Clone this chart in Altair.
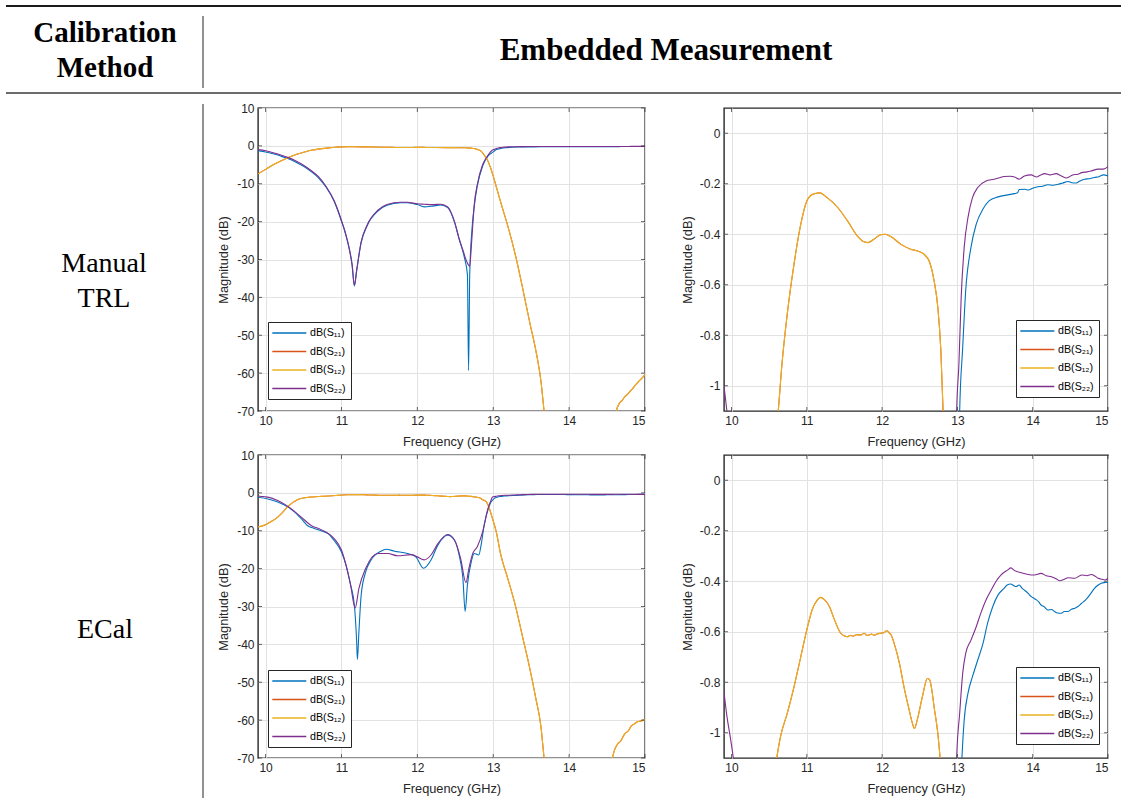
import altair as alt
import pandas as pd

# ---------------- data ----------------
FREQ_TICKS = [10, 11, 12, 13, 14, 15]
WIDE_TICKS = [-70, -60, -50, -40, -30, -20, -10, 0, 10]
ZOOM_TICKS = [-1, -0.8, -0.6, -0.4, -0.2, 0]

SERIES = ["dB(S₁₁)", "dB(S₂₁)", "dB(S₁₂)", "dB(S₂₂)"]
COLORS = ["#0072BD", "#D95319", "#EDB120", "#7E2F8E"]

# Manual TRL
trl_s11_f = [9.9, 10.0, 10.1, 10.2, 10.3, 10.4, 10.5, 10.6, 10.7, 10.8, 10.9, 10.95, 11.0, 11.05, 11.1, 11.14,
             11.17, 11.2, 11.26, 11.34, 11.48, 11.6, 11.78, 11.87, 12.0, 12.09, 12.2, 12.31, 12.4, 12.49, 12.55,
             12.62, 12.66, 12.675, 12.69, 12.72, 12.75, 12.79, 12.86, 12.93, 13.0, 13.03, 13.07, 13.11, 13.18,
             13.25, 13.34, 13.42, 13.54, 13.67, 13.76, 13.8, 13.82, 13.9, 13.94, 14.0, 14.07, 14.13, 14.2, 14.27,
             14.34, 14.4, 14.47, 14.52, 14.58, 14.62, 14.69, 14.75, 14.82, 14.88, 14.94, 15.0]
trl_s11_db = [-1.25, -1.6, -2.1, -2.7, -3.4, -4.3, -5.4, -6.8, -8.5, -11.0, -14.5, -17.0, -19.9, -23.0, -27.0,
              -31.5, -37.0, -33.0, -25.5, -21.0, -17.2, -15.7, -15.0, -15.0, -15.5, -16.1, -15.9, -15.6, -16.3,
              -20.2, -24.6, -29.5, -34.0, -59.3, -34.0, -22.0, -15.9, -10.6, -5.3, -2.7, -1.6, -1.1, -0.85,
              -0.624, -0.452, -0.36, -0.30, -0.268, -0.252, -0.244, -0.239, -0.236, -0.223, -0.222, -0.225,
              -0.218, -0.212, -0.21, -0.204, -0.206, -0.202, -0.197, -0.191, -0.196, -0.197, -0.19, -0.182,
              -0.18, -0.175, -0.172, -0.165, -0.169]

trl_s12_f = [9.9, 10.0, 10.1, 10.2, 10.3, 10.4, 10.5, 10.6, 10.62, 10.67, 10.74, 10.83, 10.92, 11.0, 11.08,
             11.17, 11.27, 11.41, 11.54, 11.67, 11.76, 11.81, 11.89, 11.98, 12.04, 12.12, 12.25, 12.38, 12.47,
             12.56, 12.63, 12.69, 12.74, 12.78, 12.81, 12.84, 12.88, 12.92, 12.96, 13.0, 13.05, 13.1, 13.19,
             13.3, 13.39, 13.48, 13.57, 13.63, 13.67, 13.72, 14.0, 14.3, 14.58, 14.62, 14.66, 14.7, 14.73,
             14.77, 14.8, 14.84, 14.88, 14.92, 14.96, 15.0]
trl_s12_db = [-7.4, -6.2, -5.0, -4.0, -3.1, -2.3, -1.7, -1.16, -1.1, -0.914, -0.716, -0.518, -0.36, -0.268,
              -0.242, -0.236, -0.255, -0.294, -0.347, -0.406, -0.43, -0.433, -0.42, -0.402, -0.40, -0.41, -0.44,
              -0.459, -0.466, -0.48, -0.51, -0.584, -0.69, -0.86, -1.1, -1.4, -2.4, -3.6, -5.5, -8.0, -11.5,
              -15.0, -21.0, -29.5, -37.8, -46.5, -54.9, -62.3, -70.0, -78.0, -85.0, -85.0, -74.0, -70.0, -68.0,
              -67.2, -66.3, -65.6, -64.9, -64.0, -63.0, -62.1, -61.3, -60.4]
trl_s21_f = trl_s12_f
trl_s21_db = trl_s12_db

trl_s22_f = [9.9, 10.0, 10.1, 10.2, 10.3, 10.4, 10.5, 10.6, 10.7, 10.8, 10.9, 10.95, 11.0, 11.05, 11.1, 11.14,
             11.17, 11.2, 11.26, 11.34, 11.48, 11.6, 11.78, 11.87, 12.0, 12.09, 12.2, 12.31, 12.4, 12.49, 12.55,
             12.6, 12.65, 12.69, 12.71, 12.73, 12.75, 12.79, 12.86, 12.93, 12.99, 13.02, 13.05, 13.09, 13.14,
             13.2, 13.27, 13.38, 13.49, 13.56, 13.62, 13.7, 13.76, 13.82, 13.89, 13.98, 14.05, 14.1, 14.16,
             14.23, 14.31, 14.38, 14.45, 14.53, 14.6, 14.65, 14.72, 14.78, 14.87, 14.94, 15.0]
trl_s22_db = [-1.0, -1.3, -1.8, -2.4, -3.1, -4.0, -5.1, -6.5, -8.2, -10.8, -14.3, -16.8, -19.7, -22.8, -26.8,
              -31.3, -36.8, -32.8, -25.3, -20.8, -17.0, -15.5, -14.9, -14.9, -15.3, -15.4, -15.5, -15.4, -16.1,
              -20.0, -24.4, -27.5, -30.5, -31.8, -27.0, -21.0, -15.5, -10.2, -5.0, -2.5, -1.1, -0.914, -0.65,
              -0.452, -0.334, -0.255, -0.215, -0.189, -0.182, -0.176, -0.171, -0.170, -0.173, -0.182, -0.169,
              -0.165, -0.173, -0.166, -0.160, -0.165, -0.160, -0.169, -0.177, -0.165, -0.162, -0.156, -0.153,
              -0.149, -0.142, -0.142, -0.132]

# ECal
ecal_s11_f = [9.9, 10.03, 10.16, 10.29, 10.38, 10.47, 10.55, 10.64, 10.73, 10.82, 10.9, 11.0, 11.06, 11.12,
              11.17, 11.2, 11.21, 11.23, 11.26, 11.32, 11.39, 11.52, 11.59, 11.7, 11.87, 11.98, 12.08, 12.18,
              12.27, 12.4, 12.49, 12.55, 12.6, 12.63, 12.66, 12.71, 12.75, 12.81, 12.84, 12.88, 12.95, 13.01,
              13.06, 13.09, 13.14, 13.2, 13.27, 13.34, 13.4, 13.47, 13.54, 13.62, 13.66, 13.71, 13.75, 13.78,
              13.82, 13.86, 13.89, 13.94, 13.98, 14.02, 14.05, 14.08, 14.11, 14.15, 14.2, 14.25, 14.29, 14.33,
              14.38, 14.42, 14.47, 14.52, 14.56, 14.6, 14.65, 14.7, 14.74, 14.78, 14.82, 14.87, 14.91, 14.96, 15.0]
ecal_s11_db = [-1.15, -1.6, -2.4, -3.7, -5.0, -6.8, -8.6, -9.4, -10.0, -10.7, -12.5, -15.6, -19.1, -24.3,
               -29.6, -39.2, -44.0, -36.6, -26.9, -20.8, -17.7, -15.4, -14.9, -15.4, -16.0, -16.9, -19.9, -17.7,
               -13.8, -11.2, -12.5, -16.4, -22.5, -31.3, -24.3, -18.2, -16.0, -16.4, -13.8, -8.6, -3.3, -1.5,
               -1.1, -0.95, -0.844, -0.778, -0.712, -0.646, -0.567, -0.5, -0.454, -0.428, -0.415, -0.411,
               -0.418, -0.421, -0.415, -0.428, -0.435, -0.448, -0.461, -0.468, -0.474, -0.482, -0.494, -0.5,
               -0.514, -0.512, -0.52, -0.526, -0.527, -0.52, -0.52, -0.51, -0.507, -0.5, -0.487, -0.475, -0.461,
               -0.445, -0.428, -0.415, -0.408, -0.405, -0.404]

ecal_s12_f = [9.9, 10.0, 10.08, 10.16, 10.23, 10.3, 10.36, 10.42, 10.5, 10.55, 10.6, 10.65, 10.74, 10.83, 10.92,
              11.01, 11.07, 11.14, 11.18, 11.23, 11.3, 11.36, 11.45, 11.5, 11.54, 11.58, 11.61, 11.66, 11.72,
              11.76, 11.8, 11.83, 11.86, 11.89, 11.94, 11.98, 12.02, 12.06, 12.09, 12.12, 12.16, 12.23, 12.29,
              12.36, 12.4, 12.43, 12.47, 12.54, 12.6, 12.63, 12.66, 12.69, 12.74, 12.77, 12.82, 12.86, 12.91,
              12.95, 12.99, 13.04, 13.1, 13.19, 13.3, 13.39, 13.48, 13.56, 13.63, 13.67, 13.72, 14.0, 14.3,
              14.53, 14.57, 14.6, 14.64, 14.68, 14.73, 14.78, 14.82, 14.86, 14.9, 14.95, 15.0]
ecal_s12_db = [-9.0, -8.4, -7.5, -6.4, -5.0, -3.5, -2.5, -1.8, -1.35, -1.2, -1.1, -1.016, -0.923, -0.818, -0.699,
               -0.58, -0.514, -0.474, -0.464, -0.472, -0.5, -0.547, -0.606, -0.617, -0.62, -0.614, -0.617, -0.612,
               -0.613, -0.606, -0.614, -0.613, -0.609, -0.614, -0.608, -0.606, -0.604, -0.596, -0.603, -0.613,
               -0.646, -0.725, -0.818, -0.91, -0.96, -0.983, -0.945, -0.85, -0.785, -0.79, -0.83, -0.897, -1.003,
               -1.1, -1.3, -1.8, -2.4, -4.2, -6.8, -10.3, -16.4, -22.5, -30.4, -38.3, -46.2, -54.1, -61.9, -70.0,
               -78.0, -85.0, -85.0, -74.0, -70.0, -67.8, -66.3, -65.5, -63.7, -62.8, -61.5, -61.0, -60.4, -60.2,
               -59.8]
ecal_s21_f = ecal_s12_f
ecal_s21_db = ecal_s12_db

ecal_s22_f = [9.9, 9.94, 9.99, 10.03, 10.16, 10.29, 10.47, 10.6, 10.73, 10.9, 11.0, 11.12, 11.18, 11.23, 11.32,
              11.48, 11.61, 11.74, 11.92, 12.0, 12.09, 12.18, 12.27, 12.4, 12.49, 12.57, 12.64, 12.68, 12.73,
              12.79, 12.86, 12.93, 12.97, 12.99, 13.03, 13.07, 13.11, 13.18, 13.25, 13.31, 13.38, 13.45, 13.51,
              13.58, 13.67, 13.71, 13.76, 13.85, 13.94, 14.02, 14.11, 14.18, 14.25, 14.31, 14.36, 14.42, 14.47,
              14.56, 14.65, 14.72, 14.78, 14.83, 14.87, 14.92, 14.96, 15.0]
ecal_s22_db = [-0.84, -0.937, -1.03, -1.12, -2.0, -3.5, -6.4, -8.6, -9.7, -12.0, -15.1, -24.3, -30.4, -25.2,
               -19.9, -16.0, -16.0, -16.6, -16.3, -16.9, -17.7, -16.4, -13.4, -11.0, -12.5, -17.3, -23.7, -19.9,
               -16.0, -14.2, -10.3, -4.2, -2.0, -1.1, -0.923, -0.765, -0.686, -0.633, -0.58, -0.527, -0.474,
               -0.435, -0.402, -0.375, -0.355, -0.347, -0.358, -0.366, -0.373, -0.375, -0.369, -0.378, -0.382,
               -0.39, -0.398, -0.392, -0.386, -0.388, -0.375, -0.378, -0.373, -0.38, -0.388, -0.392, -0.395,
               -0.388]


def frame(pairs):
    rows = []
    for name, (fs, dbs) in zip(SERIES, pairs):
        assert len(fs) == len(dbs), name
        for f, d in zip(fs, dbs):
            rows.append({"series": name, "f": f, "db": d})
    return pd.DataFrame(rows)


trl_df = frame([(trl_s11_f, trl_s11_db), (trl_s21_f, trl_s21_db),
                (trl_s12_f, trl_s12_db), (trl_s22_f, trl_s22_db)])
ecal_df = frame([(ecal_s11_f, ecal_s11_db), (ecal_s21_f, ecal_s21_db),
                 (ecal_s12_f, ecal_s12_db), (ecal_s22_f, ecal_s22_db)])

FONT = "Liberation Sans"
SERIF = "Liberation Serif"
INK = "#262626"
ONE = pd.DataFrame({"k": [0]})
BOX = alt.ViewBackground(stroke=INK, strokeWidth=1.4, fill="white")
NOBOX = alt.ViewBackground(stroke="transparent")


def panel(df, ydomain, yticks, w, h, lx, ly, title_x):
    xscale = alt.Scale(domain=[9.9, 15], nice=False, zero=False)
    yscale = alt.Scale(domain=ydomain, nice=False, zero=False)
    x = alt.X("f:Q", scale=xscale,
              axis=alt.Axis(values=FREQ_TICKS, title="Frequency (GHz)", titleY=24.5,
                            titleBaseline="top", labelPadding=4))
    y = alt.Y("db:Q", scale=yscale,
              axis=alt.Axis(values=yticks, title="Magnitude (dB)", titleX=title_x,
                            labelExpr="datum.value + ''", labelPadding=4))
    color = alt.Color("series:N", scale=alt.Scale(domain=SERIES, range=COLORS),
                      legend=alt.Legend(orient="none", legendX=lx, legendY=ly, title=None,
                                        symbolType="M-1.34,0H5.46", symbolSize=100,
                                        symbolStrokeWidth=1.4, symbolFillColor="transparent",
                                        labelFont=FONT, labelFontSize=10.7, labelColor="#000",
                                        strokeColor=INK, fillColor="white", padding=5,
                                        rowPadding=7.5, labelOffset=25, cornerRadius=0))
    layers = []
    for s in SERIES:
        layers.append(
            alt.Chart(df).transform_filter(alt.datum.series == s)
            .mark_line(clip=True, strokeWidth=1.1, interpolate="monotone")
            .encode(x=x, y=y, color=color)
        )
    # inward-pointing tick marks on all four sides of the box
    xt = pd.DataFrame({"f": FREQ_TICKS})
    yt = pd.DataFrame({"db": yticks})
    for ypix in (2, h - 2):
        layers.append(alt.Chart(xt).mark_tick(orient="vertical", size=4, thickness=1, color=INK)
                      .encode(x=x, y=alt.value(ypix)))
    for xpix in (2, w - 2):
        layers.append(alt.Chart(yt).mark_tick(orient="horizontal", size=4, thickness=1, color=INK)
                      .encode(y=y, x=alt.value(xpix)))
    return alt.layer(*layers).properties(width=w, height=h, view=BOX)


def text(t, x, y, size, bold=False):
    return alt.Chart(ONE).mark_text(text=t, font=SERIF, fontSize=size,
                                    fontWeight="bold" if bold else "normal",
                                    align="center", baseline="alphabetic", color="#000").encode(
        x=alt.value(x), y=alt.value(y))


def rule(x1, x2, y1, y2, width, col):
    return alt.Chart(ONE).mark_rule(strokeWidth=width, color=col).encode(
        x=alt.value(x1), x2=alt.value(x2), y=alt.value(y1), y2=alt.value(y2))


header = alt.layer(
    rule(5, 1120, 5, 5, 2, "#1a1a1a"),
    rule(5, 1120, 92, 92, 1.5, "#3a3a3a"),
    rule(202, 202, 15, 87, 1.3, "#555555"),
    rule(202, 202, 103, 797, 1.3, "#555555"),
    text("Calibration", 104, 40.7, 29, True),
    text("Method", 104, 76, 29, True),
    text("Embedded Measurement", 665, 59, 31, True),
).properties(width=178, height=63, view=NOBOX)


def blank(w, h):
    return alt.Chart(ONE).mark_point(opacity=0).encode(
        x=alt.value(w / 2), y=alt.value(h / 2)).properties(width=w, height=h, view=NOBOX)


lab1 = alt.layer(text("Manual", 103, 163.7, 28), text("TRL", 103, 199, 28)).properties(
    width=178, height=303, view=NOBOX)
lab2 = alt.layer(text("ECal", 104, 182.7, 28)).properties(width=178, height=303, view=NOBOX)

tl = panel(trl_df, [-70, 10], WIDE_TICKS, 387, 303, 10, 214, -28)
tr = panel(trl_df, [-1.1, 0.1], ZOOM_TICKS, 384, 303, 292, 212, -30)
bl = panel(ecal_df, [-70, 10], WIDE_TICKS, 387, 303, 10, 215, -28)
br = panel(ecal_df, [-1.1, 0.1], ZOOM_TICKS, 384, 303, 292, 212, -30)

chart = alt.concat(
    header, blank(387, 63), blank(384, 63),
    lab1, tl, tr,
    lab2, bl, br,
    columns=3, spacing=alt.RowColnumber(row=44, column=79), bounds="flush", align="each",
    padding=0, background="white",
).resolve_legend(color="independent").configure_axis(
    domain=False, ticks=False, grid=True, gridColor="#e2e2e2", gridWidth=1,
    labelFont=FONT, labelFontSize=12, labelColor=INK,
    titleFont=FONT, titleFontSize=12.8, titleFontWeight="normal", titleColor=INK,
)

chart.save("out.html", embed_options={"renderer": "svg", "actions": False})
